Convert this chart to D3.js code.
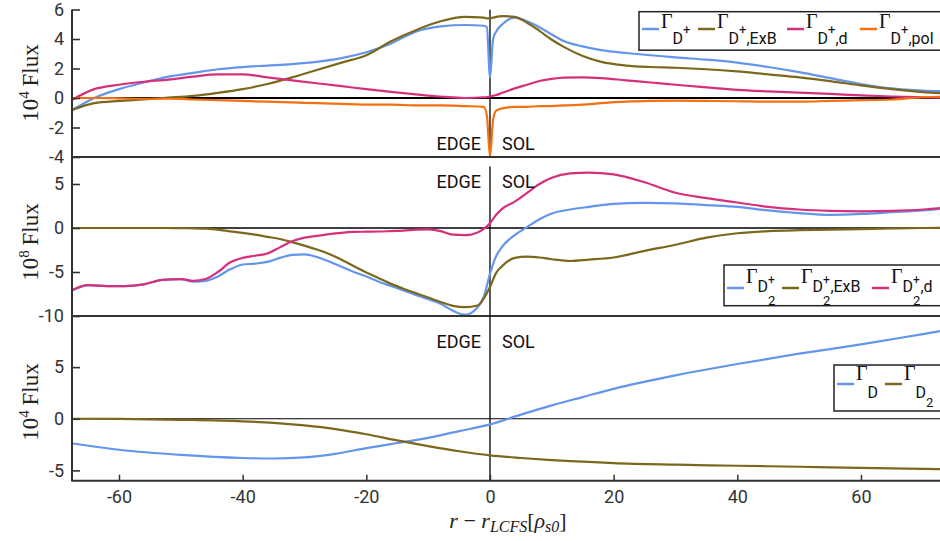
<!DOCTYPE html>
<html><head><meta charset="utf-8">
<script src="https://cdn.jsdelivr.net/npm/d3@7"></script>
<style>body{margin:0;background:#fff}svg{display:block}</style>
</head><body>
<svg id="c" width="940" height="541"></svg>
<script>
// ---------- DATA ----------
const xTicks = [-60, -40, -20, 0, 20, 40, 60];

// Panel 1 (10^4 Flux)
const xs1 = [-67.5,-64,-60,-56,-52,-48,-44,-40,-36,-32,-28,-24,-20,-16,-12,-8,-4,-1,-0.5,0,0.5,1,2,4,6,8,10,12,15,18,22,26,30,35,40,45,50,55,60,65,70,75];
const p1Total = [-0.8,0.0,0.6,1.05,1.45,1.7,1.95,2.1,2.2,2.3,2.45,2.7,3.1,3.7,4.5,4.85,4.95,4.9,4.8,1.4,4.0,4.5,5.0,5.45,5.2,4.8,4.3,3.85,3.5,3.25,3.05,2.9,2.75,2.6,2.4,2.1,1.75,1.35,0.95,0.65,0.5,0.45];
const p1ExB = [-0.8,-0.35,-0.2,-0.1,0.02,0.15,0.35,0.6,0.95,1.4,1.9,2.4,2.9,3.85,4.6,5.2,5.5,5.45,5.4,5.4,5.45,5.5,5.55,5.5,5.1,4.55,3.95,3.45,2.85,2.45,2.2,2.1,2.05,1.95,1.8,1.6,1.4,1.15,0.85,0.6,0.4,0.3];
const p1D = [-0.1,0.6,0.9,1.1,1.25,1.45,1.6,1.6,1.4,1.2,1.0,0.8,0.6,0.42,0.25,0.1,0.0,0.05,0.07,0.1,0.15,0.2,0.35,0.65,0.9,1.15,1.3,1.38,1.4,1.35,1.2,1.05,0.9,0.72,0.55,0.45,0.37,0.28,0.18,0.1,0.05,0.0];
const p1Pol = [0.0,0.0,-0.02,-0.05,-0.05,-0.1,-0.15,-0.2,-0.25,-0.3,-0.35,-0.4,-0.45,-0.45,-0.5,-0.5,-0.55,-0.6,-1.2,-3.95,-1.5,-0.85,-0.7,-0.6,-0.6,-0.55,-0.55,-0.5,-0.45,-0.35,-0.25,-0.2,-0.18,-0.2,-0.22,-0.25,-0.25,-0.2,-0.15,-0.1,0.05,0.1];
const yTicks1 = [-4,-2,0,2,4,6];

// Panel 2 (10^8 Flux)
const xs2 = [-67.5,-65,-62,-59,-56,-53,-50,-48,-46,-44,-42,-40,-38,-36,-34,-32,-30,-28,-26,-24,-22,-20,-18,-16,-14,-12,-10,-8,-6,-4,-2,-1,0,1,2,4,6,8,10,13,16,20,25,30,35,40,45,50,55,60,65,70,75];
const p2Total = [-7.05,-6.5,-6.6,-6.6,-6.4,-5.9,-5.8,-6.1,-6.0,-5.5,-4.7,-4.15,-4.05,-3.85,-3.4,-3.05,-3.0,-3.3,-3.8,-4.4,-5.0,-5.5,-6.1,-6.6,-7.1,-7.6,-8.1,-8.6,-9.4,-9.85,-9.0,-7.8,-5.2,-3.2,-2.1,-0.8,0.1,1.0,1.65,2.1,2.4,2.75,2.85,2.8,2.6,2.4,2.0,1.7,1.5,1.6,1.8,2.0,2.35];
const p2ExB = [0,0,0,0,0,0,-0.02,-0.04,-0.08,-0.18,-0.38,-0.55,-0.75,-1.0,-1.25,-1.6,-2.0,-2.45,-2.95,-3.6,-4.35,-5.05,-5.7,-6.35,-6.9,-7.4,-7.9,-8.4,-8.85,-9.0,-8.8,-8.0,-6.7,-5.1,-4.3,-3.4,-3.25,-3.35,-3.55,-3.75,-3.6,-3.35,-2.6,-1.9,-1.1,-0.6,-0.35,-0.25,-0.2,-0.12,-0.05,0.0,0.05];
const p2D = [-7.05,-6.5,-6.6,-6.6,-6.4,-5.9,-5.8,-6.0,-5.8,-5.0,-3.9,-3.4,-3.15,-2.9,-2.2,-1.5,-1.1,-0.9,-0.7,-0.55,-0.45,-0.42,-0.4,-0.35,-0.3,-0.2,-0.15,-0.35,-0.75,-0.8,-0.5,-0.1,0.55,1.5,2.2,3.0,4.0,5.0,5.7,6.2,6.3,6.1,5.2,4.0,3.4,2.9,2.4,2.1,1.95,1.9,1.95,2.1,2.4];
const yTicks2 = [-10,-5,0,5];

// Panel 3 (10^4 Flux)
const xs3 = [-67.5,-60,-50,-40,-35,-30,-25,-20,-15,-10,-5,0,5,10,15,20,30,40,50,60,70,75];
const p3D = [-2.4,-3.0,-3.5,-3.8,-3.85,-3.75,-3.4,-2.85,-2.35,-1.85,-1.2,-0.55,0.4,1.3,2.1,2.9,4.2,5.3,6.3,7.2,8.2,8.7];
const p3D2 = [0.0,-0.02,-0.1,-0.25,-0.4,-0.65,-1.0,-1.5,-2.1,-2.65,-3.15,-3.55,-3.8,-4.0,-4.15,-4.3,-4.45,-4.55,-4.65,-4.75,-4.85,-4.9];
const yTicks3 = [-5,0,5,10];

// ---------- STYLE ----------
const C = {blue:"#6495ed", olive:"#7b681c", mag:"#d6307c", orange:"#f5700f"};
const SANS = "Roboto, 'Liberation Sans', sans-serif";
const SERIF = "'Liberation Serif', 'DejaVu Serif', serif";
const fmt = d => String(d);

const svg = d3.select("#c");
const X0 = 72;
const x = d3.scaleLinear().domain([-67.6, 75]).range([X0, 490 + 75*6.183]);

const panels = [
  {dom:[-4,6], rng:[157,9.5], ticks:yTicks1, xs:xs1, label:"4", cy:83,
   series:[[p1Total,C.blue],[p1ExB,C.olive],[p1D,C.mag],[p1Pol,C.orange]],
   zw:2, vline:[-4,6], textY:150},
  {dom:[-10,8], rng:[316,157.6], ticks:yTicks2, xs:xs2, label:"8", cy:242,
   series:[[p2Total,C.blue],[p2ExB,C.olive],[p2D,C.mag]],
   zw:1.6, vline:[-10,7], textY:188, clipBottom:319},
  {dom:[-6,10], rng:[480.7,315.5], ticks:yTicks3, xs:xs3, label:"4", cy:402,
   series:[[p3D,C.blue],[p3D2,C.olive]],
   zw:1.2, vline:[-6,10], textY:348, clipTop:319}
];

const defs = svg.append("defs");
panels.forEach((p,i)=>{
  const y = d3.scaleLinear().domain(p.dom).range(p.rng);
  p.y = y;
  defs.append("clipPath").attr("id","cp"+i).append("rect")
    .attr("x",X0).attr("y",p.rng[1]).attr("width",940-X0).attr("height",p.rng[0]-p.rng[1]);
  const top = p.clipTop!==undefined ? p.clipTop : 0;
  const bot = p.clipBottom!==undefined ? p.clipBottom : 541;
  defs.append("clipPath").attr("id","lc"+i).append("rect")
    .attr("x",0).attr("y",top).attr("width",X0+12).attr("height",bot-top);

  const g = svg.append("g");
  const pg = g.append("g").attr("clip-path","url(#cp"+i+")");
  // zero lines
  pg.append("line").attr("x1",X0).attr("x2",940).attr("y1",y(0)).attr("y2",y(0))
    .attr("stroke","#000").attr("stroke-width",p.zw);
  pg.append("line").attr("x1",x(0)).attr("x2",x(0)).attr("y1",y(p.vline[0])).attr("y2",y(p.vline[1]))
    .attr("stroke","#000").attr("stroke-width",1.3);
  // curves
  const line = d3.line().x(d=>x(d[0])).y(d=>y(d[1])).curve(d3.curveMonotoneX);
  p.series.forEach(([vals,col])=>{
    pg.append("path").datum(p.xs.map((xv,k)=>[xv,vals[k]]))
      .attr("d",line).attr("fill","none").attr("stroke",col).attr("stroke-width",2.2)
      .attr("stroke-linejoin","round");
  });
  // EDGE / SOL
  g.append("text").attr("x",x(0)-9).attr("y",p.textY).attr("text-anchor","end")
    .attr("font-family",SANS).attr("font-size",18).attr("fill","#111").text("EDGE");
  g.append("text").attr("x",x(0)+12).attr("y",p.textY)
    .attr("font-family",SANS).attr("font-size",18).attr("fill","#111").text("SOL");
  // y axis (wrapped in a clip group in page coordinates)
  const cg = g.append("g").attr("clip-path","url(#lc"+i+")");
  const ax = d3.axisLeft(y).tickValues(p.ticks).tickFormat(fmt).tickSizeInner(-8).tickSizeOuter(0).tickPadding(8);
  const ag = cg.append("g").attr("transform",`translate(${X0},0)`).call(ax);
  ag.select(".domain").remove();
  ag.selectAll(".tick line").attr("stroke","#333").attr("stroke-width",1.6);
  ag.selectAll(".tick text").attr("font-family",SANS).attr("font-size",18).attr("fill","#333");
  // y label
  const yl = g.append("text").attr("transform",`translate(38,${p.cy}) rotate(-90)`)
    .attr("text-anchor","middle").attr("font-family",SERIF).attr("font-size",23).attr("fill","#222");
  yl.append("tspan").text("10");
  yl.append("tspan").attr("dy",-9).attr("font-size",15).text(p.label);
  yl.append("tspan").attr("dy",9).text("\u2009Flux");
  // bottom frame line
  g.append("line").attr("x1",X0).attr("x2",940).attr("y1",p.rng[0]).attr("y2",p.rng[0])
    .attr("stroke","#333").attr("stroke-width",2);
});
// left axis line
svg.append("line").attr("x1",X0).attr("x2",X0).attr("y1",9.5).attr("y2",481.5)
  .attr("stroke","#333").attr("stroke-width",2);

// x axis (bottom panel)
const xa = d3.axisBottom(x).tickValues(xTicks).tickFormat(fmt).tickSizeInner(-6).tickSizeOuter(0).tickPadding(10);
const xg = svg.append("g").attr("transform","translate(0,480.7)").call(xa);
xg.select(".domain").remove();
xg.selectAll(".tick line").attr("stroke","#333").attr("stroke-width",1.5);
xg.selectAll(".tick text").attr("font-family",SANS).attr("font-size",18).attr("fill","#333");

// x label
const xl = svg.append("text").attr("x",508).attr("y",528).attr("text-anchor","middle")
  .attr("font-family",SERIF).attr("font-size",22).attr("fill","#222");
xl.append("tspan").attr("font-style","italic").text("r");
xl.append("tspan").text(" \u2212 ");
xl.append("tspan").attr("font-style","italic").text("r");
xl.append("tspan").attr("font-style","italic").attr("font-size",16).attr("dy",4).text("LCFS");
xl.append("tspan").attr("dy",-4).text("[");
xl.append("tspan").attr("font-style","italic").text("\u03C1");
xl.append("tspan").attr("font-style","italic").attr("font-size",16).attr("dy",4).text("s0");
xl.append("tspan").attr("dy",-4).text("]");

// ---------- LEGENDS ----------
function legend(box, lineY, items){
  const g = svg.append("g");
  g.append("rect").attr("x",box[0]).attr("y",box[1]).attr("width",box[2]).attr("height",box[3])
    .attr("fill","#fff").attr("stroke","#222").attr("stroke-width",1.5);
  items.forEach(it=>{
    g.append("line").attr("x1",it.x).attr("x2",it.x+17).attr("y1",lineY).attr("y2",lineY)
      .attr("stroke",it.color).attr("stroke-width",2.5);
    let cx = it.x + 19, sx = cx, sw = 0;
    it.parts.forEach(p=>{
      const t = g.append("text").attr("x", p.stack ? sx : cx).attr("y", p.y)
        .attr("font-family", p.serif ? SERIF : SANS).attr("font-size", p.s).attr("fill","#111").text(p.t);
      const w = t.node().getComputedTextLength();
      if (p.stack) { cx = sx + Math.max(sw, w); }
      else { sx = cx; sw = w; cx += w; }
    });
  });
}
function partsD1(suffix){
  const a = [{t:"\u0393",serif:true,s:20,y:28},{t:"D",s:16,y:44},{t:"+",s:13,y:34}];
  if (suffix) a.push({t:suffix,s:16,y:44});
  return a;
}
const legendNames1 = [",ExB", ",d", ",pol"];
legend([639,11.7,320,38.5], 29, [
  {x:642, color:C.blue, parts:partsD1("")},
  {x:698, color:C.olive, parts:partsD1(legendNames1[0])},
  {x:787, color:C.mag, parts:partsD1(legendNames1[1])},
  {x:860, color:C.orange, parts:partsD1(legendNames1[2])}
]);
function partsD2(suffix){
  const a = [{t:"\u0393",serif:true,s:20,y:283},{t:"D",s:16,y:292},{t:"+",s:12,y:284},{t:"2",s:13,y:305,stack:true}];
  if (suffix) a.push({t:suffix,s:16,y:292});
  return a;
}
legend([724,265,240,40.7], 288, [
  {x:727, color:C.blue, parts:partsD2("")},
  {x:782, color:C.olive, parts:partsD2(",ExB")},
  {x:872, color:C.mag, parts:partsD2(",d")}
]);
legend([834,365,120,46], 384, [
  {x:837, color:C.blue, parts:[{t:"\u0393",serif:true,s:20,y:380},{t:"D",s:16,y:398}]},
  {x:885, color:C.olive, parts:[{t:"\u0393",serif:true,s:20,y:380},{t:"D",s:16,y:398},{t:"2",s:13,y:407}]}
]);
</script>
</body></html>
